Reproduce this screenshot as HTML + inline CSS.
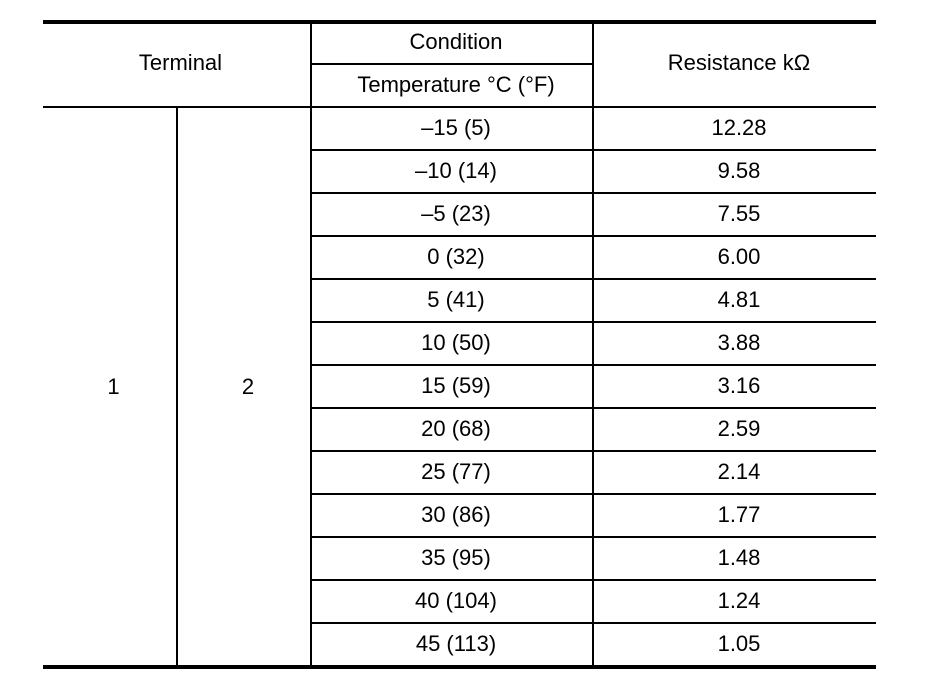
<!DOCTYPE html>
<html><head><style>
body{margin:0;background:#fff;width:928px;height:686px;position:relative;overflow:hidden;font-family:"Liberation Sans",Arial,sans-serif;font-size:22px;color:#000}
.h{position:absolute;background:#000;height:2px}
.v{position:absolute;background:#000;width:2px}
.t{position:absolute;text-align:center;line-height:22px;white-space:nowrap}
</style></head><body>
<div class="h" style="left:43px;width:833px;top:20px;height:4px"></div>
<div class="h" style="left:311px;width:282px;top:63px"></div>
<div class="h" style="left:43px;width:833px;top:106px"></div>
<div class="h" style="left:43px;width:833px;top:665px;height:4px"></div>
<div class="v" style="left:176px;top:106px;height:560px"></div>
<div class="v" style="left:310px;top:22px;height:644px"></div>
<div class="v" style="left:592px;top:22px;height:644px"></div>
<div class="t" style="left:47px;width:267px;top:52px">Terminal</div>
<div class="t" style="left:316px;width:280px;top:31px">Condition</div>
<div class="t" style="left:316px;width:280px;top:74px">Temperature °C (°F)</div>
<div class="t" style="left:598px;width:282px;top:52px">Resistance kΩ</div>
<div class="t" style="left:47px;width:133px;top:376px">1</div>
<div class="t" style="left:182px;width:132px;top:376px">2</div>
<div id="rows"></div>
<script>
var d=[["–15 (5)","12.28"],["–10 (14)","9.58"],["–5 (23)","7.55"],["0 (32)","6.00"],["5 (41)","4.81"],["10 (50)","3.88"],["15 (59)","3.16"],["20 (68)","2.59"],["25 (77)","2.14"],["30 (86)","1.77"],["35 (95)","1.48"],["40 (104)","1.24"],["45 (113)","1.05"]];
var h="";
for(var i=0;i<d.length;i++){var y=107+i*43;
h+='<div class="t" style="left:316px;width:280px;top:'+(y+10)+'px">'+d[i][0]+'</div>';
h+='<div class="t" style="left:598px;width:282px;top:'+(y+10)+'px">'+d[i][1]+'</div>';
if(i>0)h+='<div class="h" style="left:311px;width:565px;top:'+(y-1)+'px"></div>';}
document.getElementById("rows").innerHTML=h;
</script>
</body></html>
